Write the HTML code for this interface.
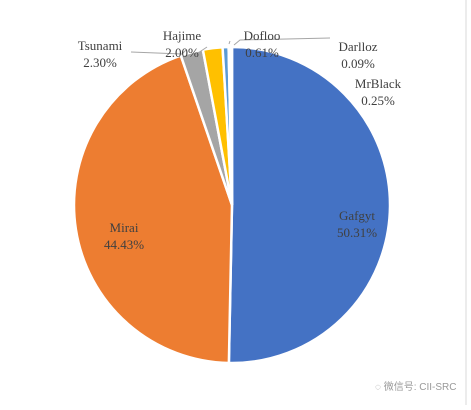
<!DOCTYPE html>
<html><head><meta charset="utf-8"><style>
body{margin:0;background:#fff;width:471px;height:405px;overflow:hidden}
svg text{font-family:"Liberation Serif",serif;font-size:13px;fill:#404040}
</style></head><body>
<svg width="471" height="405">
<line x1="466" y1="0" x2="466" y2="405" stroke="#d9d9d9"/>
<g id="slices"></g>
<g id="leaders" stroke="#a6a6a6" fill="none" stroke-width="1">
<polyline points="131,52 182,54 186,50"/>
<polyline points="198,53 207,47"/>
<polyline points="229,44 230,41"/>
<polyline points="330,38 240,40 234,45"/>
</g>
<g id="labels"></g>
<text x="375" y="390" style="font-family:'Liberation Sans','Noto Sans CJK SC',sans-serif;font-size:10px;fill:#999">◌ 微信号: CII-SRC</text>
</svg>
<script>
const categories=["Gafgyt","Mirai","Tsunami","Hajime","Dofloo","MrBlack","Darlloz"];
const values=[50.31,44.43,2.30,2.00,0.61,0.25,0.09];
const colors=["#4472c4","#ed7d31","#a5a5a5","#ffc000","#5b9bd5","#70ad47","#264478"];
const labelPos=[[357,220],[124,232],[100,50],[182,40],[262,40],[378,88],[358,51]];
const cx=232,cy=205,r=158;
const ns="http://www.w3.org/2000/svg";
const total=values.reduce((a,b)=>a+b,0);
let a0=0;
const sg=document.getElementById('slices'),lg=document.getElementById('labels');
values.forEach((v,i)=>{
  const a1=a0+v/total*2*Math.PI;
  const p=(a)=>[cx+r*Math.sin(a),cy-r*Math.cos(a)];
  const [x0,y0]=p(a0),[x1,y1]=p(a1);
  const path=document.createElementNS(ns,'path');
  path.setAttribute('d',`M${cx},${cy}L${x0},${y0}A${r},${r} 0 ${a1-a0>Math.PI?1:0} 1 ${x1},${y1}Z`);
  path.setAttribute('fill',colors[i]);path.setAttribute('stroke','#fff');path.setAttribute('stroke-width','2.5');
  
  
  sg.appendChild(path);
  const t=document.createElementNS(ns,'text');
  t.setAttribute('text-anchor','middle');
  
  
  const [lx,ly]=labelPos[i];
  [categories[i],v.toFixed(2)+'%'].forEach((s,k)=>{const ts=document.createElementNS(ns,'tspan');ts.setAttribute('x',lx);ts.setAttribute('y',ly+k*17);ts.textContent=s;t.appendChild(ts);});
  lg.appendChild(t);
  a0=a1;
});
</script>
</body></html>
